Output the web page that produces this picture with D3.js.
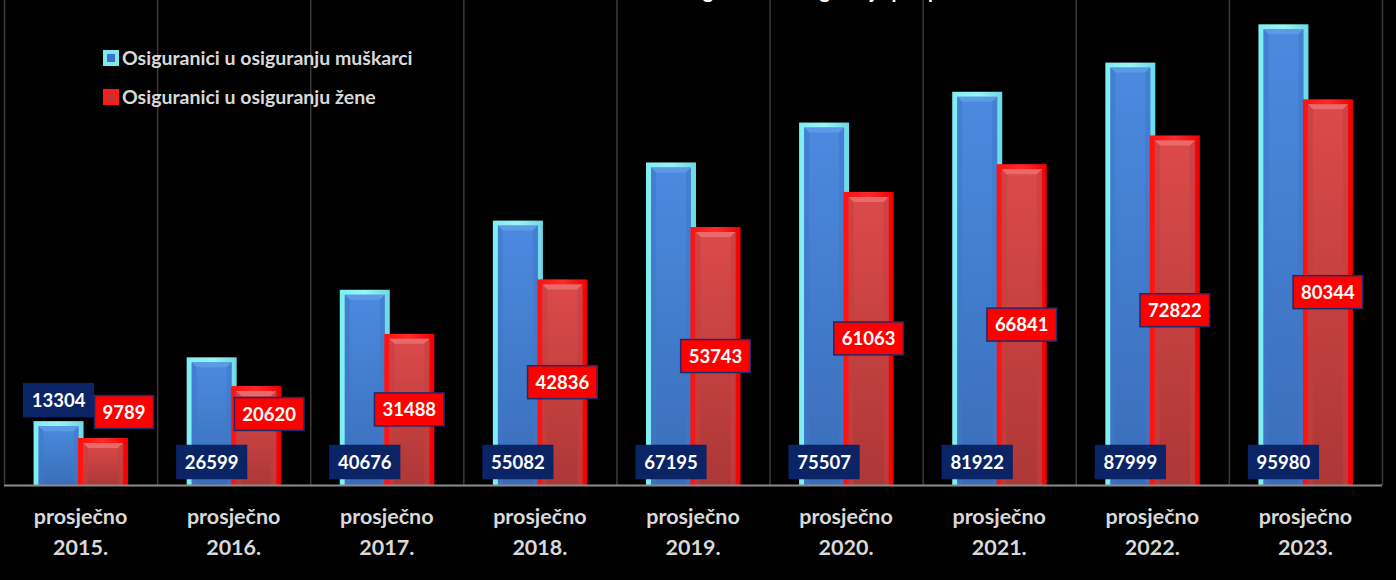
<!DOCTYPE html>
<html>
<head>
<meta charset="utf-8">
<script src="https://cdn.jsdelivr.net/npm/d3@7/dist/d3.min.js"></script>
<style>
  html, body { margin: 0; padding: 0; background: #000; }
  svg { display: block; }
</style>
</head>
<body>
<svg id="chart" width="1396" height="580"></svg>
<script>
// Average number of insured persons per year, by sex
const years = ["2015.", "2016.", "2017.", "2018.", "2019.", "2020.", "2021.", "2022.", "2023."];
const categoryPrefix = "prosječno";
const men = [13304, 26599, 40676, 55082, 67195, 75507, 81922, 87999, 95980];
const women = [9789, 20620, 31488, 42836, 53743, 61063, 66841, 72822, 80344];
const seriesNames = ["Osiguranici u osiguranju muškarci", "Osiguranici u osiguranju žene"];
const titleText = "Osiguranici u osiguranju po spolu";

const W = 1396, H = 580;
const svg = d3.select("#chart");
const font = "Lato, 'Open Sans', sans-serif";

const x = d3.scaleBand().domain(years).range([4, 1382]).paddingInner(0).paddingOuter(0);
const y = d3.scaleLinear().domain([0, 100000]).range([485, 5]);

const barW = 50;
const offBlue = -22, offRed = 22.5;

// gradients
const defs = svg.append("defs");
function vgrad(id, stops) {
  const g = defs.append("linearGradient").attr("id", id).attr("x1", 0).attr("y1", 0).attr("x2", 0).attr("y2", 1);
  stops.forEach(s => g.append("stop").attr("offset", s[0]).attr("stop-color", s[1]));
}
function hgrad(id, stops) {
  const g = defs.append("linearGradient").attr("id", id).attr("x1", 0).attr("y1", 0).attr("x2", 1).attr("y2", 0);
  stops.forEach(s => g.append("stop").attr("offset", s[0]).attr("stop-color", s[1]));
}
vgrad("blueFill", [[0, "#4b8ae0"], [1, "#3a6db8"]]);
vgrad("redFill", [[0, "#dc4a4a"], [1, "#ad3737"]]);
hgrad("blueEdge", [[0, "#7deef2"], [0.5, "#9af4f6"], [1, "#6ad9e6"]]);
hgrad("redEdge", [[0, "#ff1010"], [0.5, "#ff2a2a"], [1, "#f00000"]]);

// title (sits at the very top edge, only its lowest strokes show)
svg.append("text")
  .attr("x", 820).attr("y", -2)
  .attr("text-anchor", "middle")
  .attr("font-family", font).attr("font-weight", "bold").attr("font-size", 20)
  .attr("fill", "#ffffff")
  .text(titleText);

// vertical gridlines at category boundaries
const bounds = years.map(d => x(d)).concat([x.range()[1]]);
svg.append("g").selectAll("line").data(bounds).join("line")
  .attr("x1", d => d + 0.5).attr("x2", d => d + 0.5)
  .attr("y1", 0).attr("y2", y(0))
  .attr("stroke", "#3a3a3a").attr("stroke-width", 1.5);

// bars with bevelled frame
function drawBars(values, offset, edgeFill, innerFill, bevelTop, bevelSide, cls) {
  const g = svg.append("g").attr("class", cls);
  const b = 5;
  values.forEach((v, i) => {
    const cx = x(years[i]) + x.bandwidth() / 2 + offset;
    const x0 = cx - barW / 2, y0 = y(v), h = y(0) - y(v);
    g.append("rect").attr("x", x0).attr("y", y0).attr("width", barW).attr("height", h).attr("fill", edgeFill);
    g.append("rect").attr("x", x0 + b).attr("y", y0 + b).attr("width", barW - 2 * b).attr("height", Math.max(0, h - b)).attr("fill", innerFill);
    // top bevel
    g.append("path")
      .attr("d", `M${x0 + b},${y0 + b} L${x0 + barW - b},${y0 + b} L${x0 + barW - b - 5},${y0 + b + 5} L${x0 + b + 5},${y0 + b + 5} Z`)
      .attr("fill", bevelTop);
    // side bevels
    g.append("path")
      .attr("d", `M${x0 + b},${y0 + b} L${x0 + b + 5},${y0 + b + 5} L${x0 + b + 5},${y(0)} L${x0 + b},${y(0)} Z`)
      .attr("fill", bevelSide).attr("opacity", 0.6);
    g.append("path")
      .attr("d", `M${x0 + barW - b},${y0 + b} L${x0 + barW - b - 5},${y0 + b + 5} L${x0 + barW - b - 5},${y(0)} L${x0 + barW - b},${y(0)} Z`)
      .attr("fill", bevelSide).attr("opacity", 0.6);
  });
}
drawBars(men, offBlue, "url(#blueEdge)", "url(#blueFill)", "#5c9ae6", "#3f78c8", "men");
drawBars(women, offRed, "url(#redEdge)", "url(#redFill)", "#e86a6a", "#c43f3f", "women");

// axis baseline
svg.append("line")
  .attr("x1", 4).attr("x2", 1382)
  .attr("y1", y(0) + 0.5).attr("y2", y(0) + 0.5)
  .attr("stroke", "#8c8c8c").attr("stroke-width", 2);

// category labels
const axisG = svg.append("g");
years.forEach(d => {
  const cx = x(d) + x.bandwidth() / 2;
  const t = axisG.append("text")
    .attr("x", cx).attr("text-anchor", "middle")
    .attr("font-family", font).attr("font-weight", "bold").attr("font-size", 21.5)
    .attr("fill", "#d9d9d9");
  t.append("tspan").attr("x", cx).attr("y", 524).text(categoryPrefix);
  t.append("tspan").attr("x", cx).attr("y", 555).text(d);
});

// data labels
const labH = 33, padX = 8;
const labelG = svg.append("g");
function labelBox(cx, cy, text, fill, stroke) {
  const g = labelG.append("g");
  const t = g.append("text")
    .attr("x", cx).attr("y", cy + 6.5)
    .attr("text-anchor", "middle")
    .attr("font-family", font).attr("font-weight", "bold").attr("font-size", 18.5)
    .attr("fill", "#ffffff").text(text);
  const w = t.node().getComputedTextLength() + 2 * padX;
  g.insert("rect", "text")
    .attr("x", cx - w / 2).attr("y", cy - labH / 2)
    .attr("width", w).attr("height", labH)
    .attr("fill", fill).attr("stroke", stroke).attr("stroke-width", 1.5);
  return { x0: cx - w / 2, x1: cx + w / 2, y0: cy - labH / 2, y1: cy + labH / 2 };
}

years.forEach((d, i) => {
  const bx = x(d) + x.bandwidth() / 2;
  // men: inside base, or above the bar when the bar is short
  const hb = y(0) - y(men[i]);
  const bcy = hb > 80 ? y(0) - 23 : y(men[i]) - 21;
  const blueBox = labelBox(bx + offBlue, bcy, men[i], "#0b2466", "#0b2466");

  // women: centred in the bar; short bars get the label above, and
  // a label that would collide with the men's label is lifted over it
  const hr = y(0) - y(women[i]);
  let rcx = bx + offRed, rcy = (y(women[i]) + y(0)) / 2;
  if (hr < 60) {
    rcy = y(women[i]) - 26;
    rcx += 21;
  } else if (rcy + labH / 2 > blueBox.y0 - 4) {
    rcy = blueBox.y0 - 15 - labH / 2;
    rcx += 13;
  }
  labelBox(rcx, rcy, women[i], "#ff0000", "#1f2a6b");
});

// legend
const legend = svg.append("g");
const legItems = [
  { name: seriesNames[0], edge: "#7fe9f0", core: "#3b6fd0", y: 58 },
  { name: seriesNames[1], edge: "#ff1a1a", core: "#c23434", y: 97 }
];
legItems.forEach(it => {
  legend.append("rect").attr("x", 103).attr("y", it.y - 8).attr("width", 16).attr("height", 16).attr("fill", it.edge);
  legend.append("rect").attr("x", 107).attr("y", it.y - 4).attr("width", 8).attr("height", 8).attr("fill", it.core);
  legend.append("text")
    .attr("x", 122).attr("y", it.y + 6.5)
    .attr("font-family", font).attr("font-weight", "bold").attr("font-size", 19.5)
    .attr("fill", "#d9d9d9").text(it.name);
});
</script>
</body>
</html>
